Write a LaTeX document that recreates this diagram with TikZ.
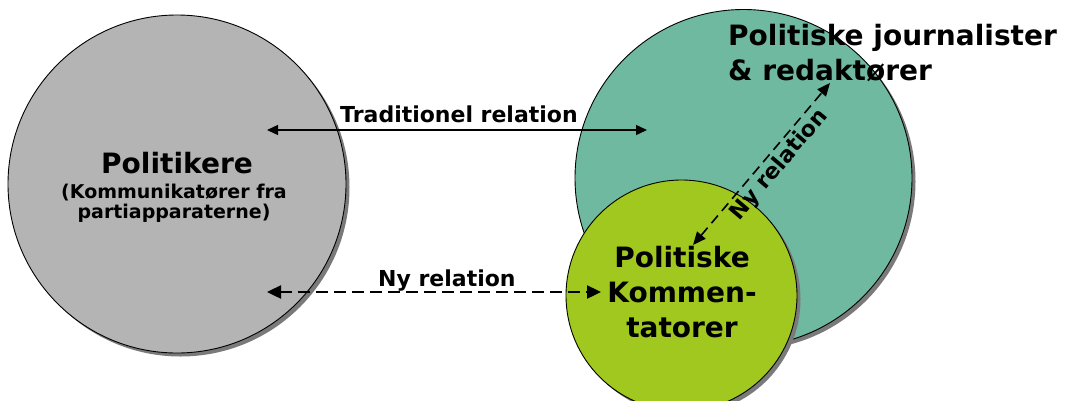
\documentclass[tikz,border=0pt]{standalone}
\usepackage{fontspec}
\setmainfont{DejaVu Sans}
\usetikzlibrary{arrows.meta,shadows}
\definecolor{grayfill}{HTML}{B5B4B5}
\definecolor{tealfill}{HTML}{6EB9A0}
\definecolor{limefill}{HTML}{A0C81E}
\definecolor{shadowc}{HTML}{7A7A7A}
\tikzset{
  disc/.style={circle, draw=black, line width=0.9pt, inner sep=0pt, minimum size=#1,
    drop shadow={shadow xshift=3.5pt, shadow yshift=-3.5pt, fill=shadowc, opacity=1}},
  bigtxt/.style={font=\bfseries\fontsize{28}{34}\selectfont, inner sep=0pt},
  midtxt/.style={font=\bfseries\fontsize{22}{26}\selectfont, inner sep=0pt},
  smalltxt/.style={font=\bfseries\fontsize{19}{22}\selectfont, inner sep=0pt},
  solidrel/.style={line width=1.4pt, {Triangle[length=11pt,width=10pt]}-{Triangle[length=11pt,width=10pt]}},
  dashrel/.style={line width=2.4pt, dash pattern=on 12pt off 6pt, {Triangle[length=14pt,width=13pt]}-{Triangle[length=14pt,width=13pt]}},
  diagrel/.style={line width=1.6pt, dash pattern=on 10pt off 6pt, {Triangle[length=13pt,width=11pt]}-{Triangle[length=13pt,width=11pt]}}
}
\begin{document}
\begin{tikzpicture}[x=1pt,y=-1pt]
\useasboundingbox (0,0) rectangle (1072,400);
\clip (0,0) rectangle (1072,400);
% circles
\node[disc=338pt, fill=grayfill] (pol) at (177,184) {};
\node[disc=337pt, fill=tealfill] (jour) at (743.5,178) {};
\node[disc=231pt, fill=limefill] (komm) at (681.5,295.5) {};
% text
\node[bigtxt, anchor=base] (polA) at (177,173) {Politikere};
\node[smalltxt, anchor=base] (polB) at (174,198) {(Kommunikatører fra};
\node[smalltxt, anchor=base] (polC) at (174,218) {partiapparaterne)};
\node[bigtxt, anchor=base west] (jourA) at (728,45) {Politiske journalister};
\node[bigtxt, anchor=base west] (jourB) at (728,80) {\& redaktører};
\node[bigtxt, anchor=base] (kommA) at (682,267) {Politiske};
\node[bigtxt, anchor=base] (kommB) at (682,302) {Kommen-};
\node[bigtxt, anchor=base] (kommC) at (682,337) {tatorer};
% connectors
\coordinate (tradL) at (267,130);
\coordinate (tradR) at (647,130);
\coordinate (nyL) at (267,292);
\coordinate (nyR) at (601,292);
\coordinate (diagA) at (693,245);
\coordinate (diagB) at (830,83);
\draw[solidrel] (tradL) -- (tradR);
\node[midtxt, anchor=base west] (tradlab) at (340,122) {Traditionel relation};
\draw[dashrel] (nyL) -- (nyR);
\node[midtxt, anchor=base west] (nylab) at (378,286) {Ny relation};
\draw[diagrel] (diagA) -- (diagB) node[pos=0.55, sloped, below=3pt, midtxt, inner sep=0pt] (diaglab) {Ny relation};
\end{tikzpicture}
\end{document}
